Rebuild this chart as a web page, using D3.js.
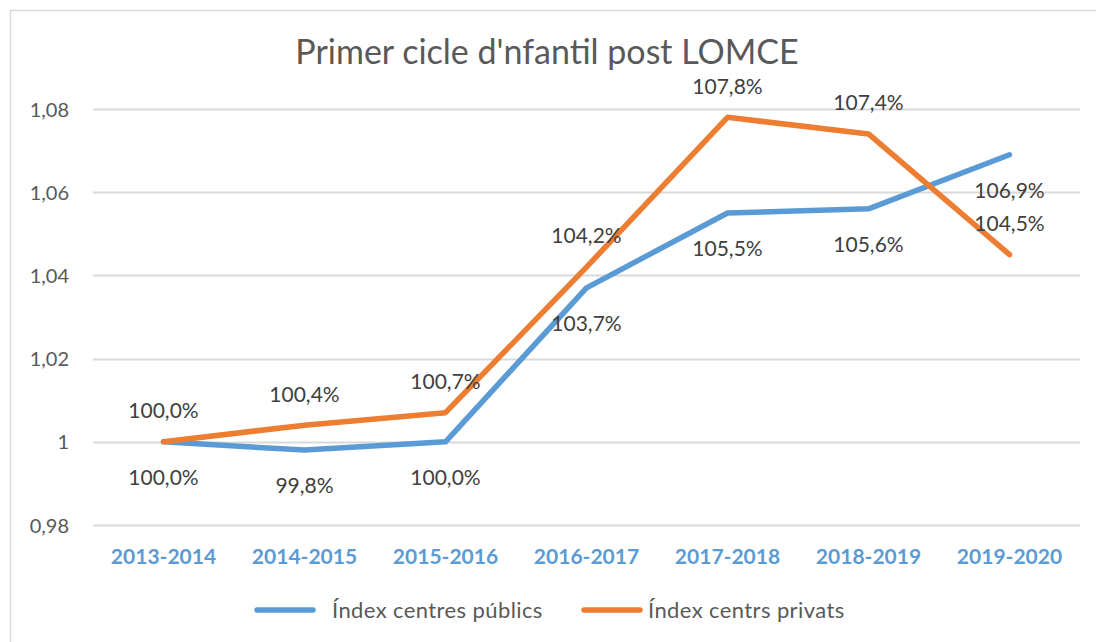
<!DOCTYPE html>
<html><head><meta charset="utf-8">
<script src="https://cdn.jsdelivr.net/npm/d3@7"></script>
<style>body{margin:0;background:#fff}svg{display:block}</style>
</head><body>
<svg id="c" width="1096" height="642"></svg>
<script>
const categories = ["2013-2014","2014-2015","2015-2016","2016-2017","2017-2018","2018-2019","2019-2020"];
const publicValues = [1.000, 0.998, 1.000, 1.037, 1.055, 1.056, 1.069];
const privateValues = [1.000, 1.004, 1.007, 1.042, 1.078, 1.074, 1.045];
const yTicks = [0.98, 1.00, 1.02, 1.04, 1.06, 1.08];
const seriesNames = ["Índex centres públics", "Índex centrs privats"];
const title = "Primer cicle d'nfantil post LOMCE";

const FONT = "Lato, 'Open Sans', sans-serif";
const svg = d3.select("#c");
svg.append("rect").attr("x",10.5).attr("y",10.5).attr("width",1100).attr("height",650)
  .attr("fill","#fff").attr("stroke","#d9d9d9").attr("stroke-width",1.5);

const x = d3.scaleBand().domain(categories).range([93,1080]);
const y = d3.scaleLinear().domain([0.98,1.08]).range([525,109]);

svg.append("text").attr("x",547).attr("y",64).attr("text-anchor","middle")
  .attr("font-family",FONT).attr("font-size",34).attr("fill","#595959").text(title);

// gridlines
svg.append("g").selectAll("line").data(yTicks).join("line")
  .attr("x1",93).attr("x2",1080).attr("y1",d=>Math.round(y(d))+0.5).attr("y2",d=>Math.round(y(d))+0.5)
  .attr("stroke","#d9d9d9").attr("stroke-width",2);

const fmtTick = d => d===1 ? "1" : d3.format(".2f")(d).replace(".",",");
const yAxis = d3.axisLeft(y).tickValues(yTicks).tickFormat(fmtTick).tickSize(0).tickPadding(0);
const gy = svg.append("g").attr("transform","translate(69,0)").call(yAxis);
gy.select(".domain").remove();
gy.selectAll("text").attr("font-family",FONT).attr("font-size",20).attr("fill","#595959").attr("dy","0.35em");

const xAxis = d3.axisBottom(x).tickSize(0).tickPadding(0);
const gx = svg.append("g").attr("transform","translate(0,557)").call(xAxis);
gx.select(".domain").remove();
gx.selectAll("text").attr("font-family",FONT).attr("font-size",21).attr("font-weight","bold").attr("fill","#5b9bd5").attr("dy","0.35em");

const cx = d => x(d) + x.bandwidth()/2;
const line = d3.line().x((d,i)=>cx(categories[i])).y(d=>y(d));
const colors = ["#5b9bd5","#ed7d31"];
[publicValues, privateValues].forEach((vals,k)=>{
  svg.append("path").datum(vals).attr("d",line).attr("fill","none")
    .attr("stroke",colors[k]).attr("stroke-width",5.5).attr("stroke-linecap","round").attr("stroke-linejoin","round");
});

const pct = v => d3.format(".1f")(v*100).replace(".",",") + "%";
svg.append("g").selectAll("text").data(publicValues).join("text")
  .attr("x",(d,i)=>cx(categories[i])).attr("y",d=>y(d)+36).attr("dy","0.35em")
  .attr("text-anchor","middle").attr("font-family",FONT).attr("font-size",21).attr("fill","#404040").text(pct);
svg.append("g").selectAll("text").data(privateValues).join("text")
  .attr("x",(d,i)=>cx(categories[i])).attr("y",d=>y(d)-31).attr("dy","0.35em")
  .attr("text-anchor","middle").attr("font-family",FONT).attr("font-size",21).attr("fill","#404040").text(pct);

// legend
const legX = [257, 584];
const legTextX = [332, 648];
seriesNames.forEach((n,k)=>{
  svg.append("line").attr("x1",legX[k]).attr("x2",legX[k]+56).attr("y1",610).attr("y2",610)
    .attr("stroke",colors[k]).attr("stroke-width",5.5).attr("stroke-linecap","round");
  svg.append("text").attr("x",legTextX[k]).attr("y",610).attr("dy","0.35em")
    .attr("font-family",FONT).attr("font-size",22).attr("letter-spacing",0.4).attr("fill","#595959").text(n);
});
</script>
</body></html>
